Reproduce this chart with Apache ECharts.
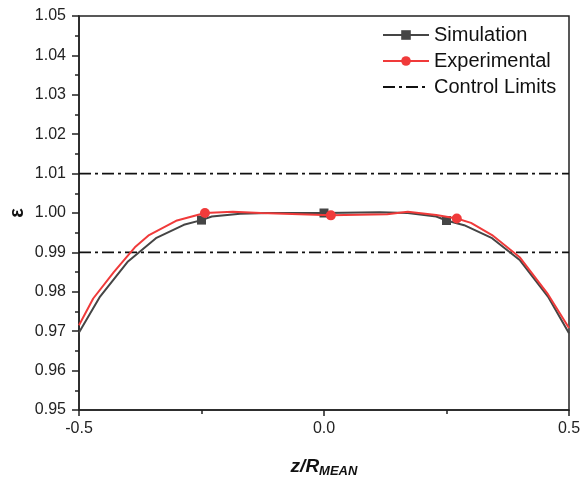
<!DOCTYPE html>
<html>
<head>
<meta charset="utf-8">
<script src="https://cdn.jsdelivr.net/npm/echarts@6/dist/echarts.min.js"></script>
<style>
  html, body { margin: 0; padding: 0; background: #fff; }
  #chart { width: 583px; height: 480px; }
</style>
</head>
<body>
<div id="chart"></div>
<script>
// simulation curve (z/R_MEAN, epsilon)
var simX = [-0.5, -0.457, -0.4, -0.343, -0.286, -0.25, -0.229, -0.171, -0.114, 0, 0.114, 0.171, 0.229, 0.25, 0.286, 0.343, 0.4, 0.457, 0.5];
var simY = [0.9697, 0.9788, 0.9877, 0.9936, 0.9970, 0.9982, 0.9991, 0.9998, 1.0000, 1.0000, 1.0002, 1.0000, 0.9991, 0.9981, 0.9969, 0.9936, 0.9880, 0.9788, 0.9695];
var simMarks = [5, 9, 13];

// experimental curve
var expX = [-0.5, -0.471, -0.429, -0.386, -0.357, -0.3, -0.243, -0.186, -0.129, 0.014, 0.129, 0.171, 0.229, 0.271, 0.3, 0.343, 0.4, 0.457, 0.5];
var expY = [0.9715, 0.9783, 0.9850, 0.9913, 0.9944, 0.9981, 1.0000, 1.0003, 1.0000, 0.9994, 0.9997, 1.0003, 0.9995, 0.9986, 0.9975, 0.9944, 0.9887, 0.9794, 0.9708];
var expMarks = [6, 9, 13];

var limits = [1.01, 0.99];
var xRange = [-0.5, 0.5];
var yRange = [0.95, 1.05];

function build(xs, ys, marks) {
    var out = [];
    for (var i = 0; i < xs.length; i++) {
        var item = {value: [xs[i], ys[i]]};
        if (marks.indexOf(i) < 0) item.symbol = 'none';
        out.push(item);
    }
    return out;
}

// two horizontal lines, broken by '-'
var limitData = [];
limits.forEach(function (v) {
    limitData.push([xRange[0], v], [xRange[1], v], '-');
});

var dashDot = [12, 4, 3, 4];
var font = 'Liberation Sans, Arial, sans-serif';

var chart = echarts.init(document.getElementById('chart'));
chart.setOption({
    animation: false,
    textStyle: {fontFamily: font},
    grid: {
        left: 79, right: 14, top: 16, bottom: 70,
        outerBoundsMode: 'none',
        containLabel: false,
        show: true, borderColor: '#222', borderWidth: 1.5
    },
    legend: {
        orient: 'vertical',
        left: 377, top: 20,
        itemWidth: 46, itemHeight: 12, itemGap: 6,
        textStyle: {fontSize: 20, color: '#111', fontFamily: font},
        data: [
            'Simulation',
            'Experimental',
            {name: 'Control Limits', itemStyle: {opacity: 0}}
        ]
    },
    xAxis: {
        type: 'value',
        min: xRange[0], max: xRange[1], interval: 0.5,
        axisLine: {onZero: false, lineStyle: {color: '#222', width: 1.5}},
        axisTick: {length: 6, lineStyle: {color: '#222', width: 1.5}},
        minorTick: {show: true, splitNumber: 2, length: 4, lineStyle: {color: '#222', width: 1.5}},
        splitLine: {show: false},
        axisLabel: {fontSize: 16, color: '#222', margin: 11, formatter: function (v) { return v.toFixed(1); }},
        name: '{a|z/R}{b|MEAN}',
        nameLocation: 'middle',
        nameGap: 45,
        nameMoveOverlap: false,
        nameTextStyle: {
            rich: {
                a: {fontSize: 19, fontWeight: 'bold', fontStyle: 'italic', color: '#111', fontFamily: font},
                b: {fontSize: 13, fontWeight: 'bold', fontStyle: 'italic', color: '#111', fontFamily: font, padding: [10, 0, 0, 0]}
            }
        }
    },
    yAxis: {
        type: 'value',
        min: yRange[0], max: yRange[1], interval: 0.01,
        axisLine: {show: true, onZero: false, lineStyle: {color: '#222', width: 1.5}},
        axisTick: {show: true, length: 7, lineStyle: {color: '#222', width: 1.5}},
        minorTick: {show: true, splitNumber: 2, length: 4, lineStyle: {color: '#222', width: 1.5}},
        splitLine: {show: false},
        axisLabel: {fontSize: 16, color: '#222', margin: 13, formatter: function (v) { return v.toFixed(2); }},
        name: 'ε',
        nameLocation: 'middle',
        nameRotate: 90,
        nameGap: 52,
        nameMoveOverlap: false,
        nameTextStyle: {fontSize: 20, fontWeight: 'bold', color: '#111'}
    },
    series: [
        {
            name: 'Simulation',
            type: 'line',
            data: build(simX, simY, simMarks),
            symbol: 'rect', symbolSize: 9,
            color: '#454545',
            lineStyle: {width: 2, color: '#454545'},
            itemStyle: {color: '#454545'},
            z: 3
        },
        {
            name: 'Experimental',
            type: 'line',
            data: build(expX, expY, expMarks),
            symbol: 'circle', symbolSize: 10,
            color: '#f03a3a',
            lineStyle: {width: 2, color: '#f03a3a'},
            itemStyle: {color: '#f03a3a'},
            z: 4
        },
        {
            name: 'Control Limits',
            type: 'line',
            data: limitData,
            symbol: 'none',
            showSymbol: false,
            connectNulls: false,
            color: '#111',
            lineStyle: {width: 1.8, color: '#111', type: dashDot},
            z: 2
        }
    ]
});
</script>
</body>
</html>
